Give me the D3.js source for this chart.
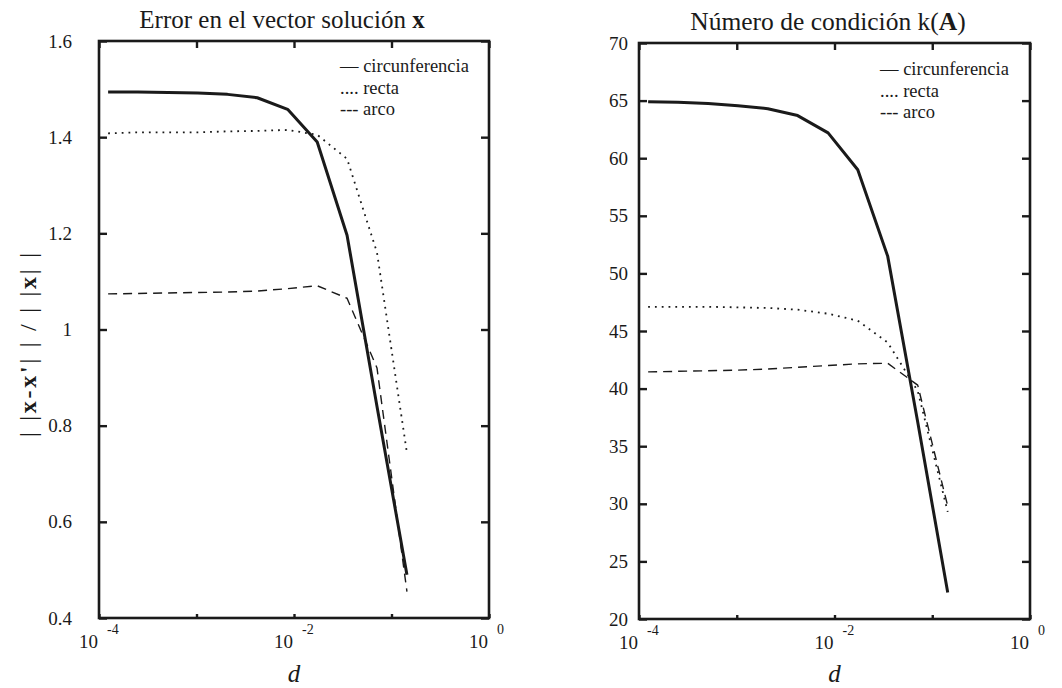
<!DOCTYPE html>
<html><head><meta charset="utf-8">
<script src="https://cdn.jsdelivr.net/npm/d3@7"></script>
<style>body{margin:0;background:#fff}svg{display:block}text{font-family:"Liberation Serif","Times New Roman",serif;fill:#1a1a1a}</style>
</head><body><svg id="c" width="1062" height="688"></svg>
<script>
// d values (shared by all series)
const dValues = [1.24e-4, 2.5e-4, 5.1e-4, 1.03e-3, 2.08e-3, 4.2e-3, 8.6e-3, 0.0173, 0.035, 0.071, 0.144];
// Left panel: error ||x-x'||/||x||
const errCirc  = [1.494, 1.494, 1.493, 1.492, 1.489, 1.482, 1.458, 1.39, 1.196, 0.84, 0.49];
const errRecta = [1.408, 1.41, 1.41, 1.41, 1.412, 1.413, 1.415, 1.405, 1.355, 1.16, 0.743];
const errArco  = [1.074, 1.075, 1.076, 1.077, 1.078, 1.08, 1.085, 1.091, 1.065, 0.92, 0.455];
// Right panel: condition number k(A)
const condCirc  = [64.9, 64.85, 64.75, 64.55, 64.3, 63.7, 62.2, 59.0, 51.5, 37.1, 22.3];
const condRecta = [47.1, 47.1, 47.1, 47.05, 47.0, 46.85, 46.5, 45.9, 44.0, 39.8, 29.3];
const condArco  = [41.45, 41.5, 41.55, 41.6, 41.7, 41.85, 42.0, 42.15, 42.2, 40.3, 29.8];
// ticks
const xTickExps = [-4, -3, -2, -1, 0];
const xLabelExps = [-4, -2, 0];
const errTicks = [0.4, 0.6, 0.8, 1, 1.2, 1.4, 1.6];
const condTicks = [20, 25, 30, 35, 40, 45, 50, 55, 60, 65, 70];
const legendLabels = ["— circunferencia", ".... recta", "--- arco"];

const svg = d3.select("#c");
const ink = "#1a1a1a";

function panel(o) {
  const x = d3.scaleLog().domain([1e-4, 1]).range([o.x0, o.x1]);
  const y = d3.scaleLinear().domain(o.yDomain).range([o.y1, o.y0]);
  const g = svg.append("g");
  const line = vals => d3.line().x((d, i) => x(dValues[i])).y(d => y(d))(vals);
  const styles = [
    {w: 3, dash: null},
    {w: 1.8, dash: "1.8,5"},
    {w: 1.4, dash: "9,6"}
  ];
  o.series.forEach((s, k) => {
    g.append("path").attr("d", line(s)).attr("fill", "none").attr("stroke", ink)
      .attr("stroke-width", styles[k].w).attr("stroke-dasharray", styles[k].dash)
      .attr("stroke-linejoin", "round");
  });
  const left = d3.axisRight(y).tickValues(o.yTicks).tickSize(8).tickFormat("");
  const right = d3.axisLeft(y).tickValues(o.yTicks).tickSize(8).tickFormat("");
  const tv = xTickExps.map(e => Math.pow(10, e));
  const top = d3.axisBottom(x).tickValues(tv).tickSize(7).tickFormat("");
  const bottom = d3.axisTop(x).tickValues(tv).tickSize(4).tickFormat("");
  [[left, `translate(${o.x0},0)`], [right, `translate(${o.x1},0)`],
   [top, `translate(0,${o.y0})`], [bottom, `translate(0,${o.y1})`]].forEach(([a, t]) => {
    const ag = g.append("g").attr("transform", t).call(a);
    ag.select(".domain").remove();
    ag.selectAll("line").attr("stroke", ink).attr("stroke-width", 2.4);
  });
  g.append("rect").attr("x", o.x0).attr("y", o.y0).attr("width", o.x1 - o.x0).attr("height", o.y1 - o.y0)
    .attr("fill", "none").attr("stroke", ink).attr("stroke-width", 2.6);
  g.selectAll(".yl").data(o.yTicks).join("text")
    .attr("x", o.yLabX).attr("y", d => y(d) + 6.5).attr("text-anchor", "end")
    .attr("font-size", 19).text(d => String(d));
  xLabelExps.forEach(e => {
    const px = x(Math.pow(10, e));
    g.append("text").attr("x", px - 1).attr("y", o.y1 + 30).attr("text-anchor", "end")
      .attr("font-size", 19).text("10");
    g.append("text").attr("x", px + 8).attr("y", o.y1 + 16).attr("font-size", 14).text(String(e));
  });
  g.append("text").attr("x", (o.x0 + o.x1) / 2).attr("y", 682).attr("text-anchor", "middle")
    .attr("font-size", 25).attr("font-style", "italic").text("d");
  const t = g.append("text").attr("x", o.titleX).attr("y", o.titleY).attr("text-anchor", "middle").attr("font-size", o.titleSize);
  o.title.forEach(p => t.append("tspan").attr("font-weight", p[1] ? "bold" : null).text(p[0]));
  legendLabels.forEach((l, i) => {
    g.append("text").attr("x", o.legX).attr("y", o.legY + i * 21.7).attr("font-size", 18.5).text(l);
  });
}

panel({x0: 99, x1: 489, y0: 41, y1: 618, yDomain: [0.4, 1.6], yTicks: errTicks, yLabX: 72,
  series: [errCirc, errRecta, errArco], title: [["Error en el vector solución ", false], ["x", true]],
  titleX: 282, titleY: 28, titleSize: 25, legX: 340, legY: 72});
panel({x0: 639, x1: 1030, y0: 43, y1: 619, yDomain: [20, 70], yTicks: condTicks, yLabX: 628,
  series: [condCirc, condRecta, condArco], title: [["Número de condición k(", false], ["A", true], [")", false]],
  titleX: 828, titleY: 30, titleSize: 25.5, legX: 880, legY: 75});

// y-axis label of left panel
const yl = svg.append("text").attr("transform", "translate(36,345) rotate(-90)").attr("text-anchor", "middle")
  .attr("font-size", 24).attr("textLength", 184).attr("lengthAdjust", "spacing");
[["| |", false], ["x-x'", true], ["| |", false], [" / ", false], ["| |", false], ["x", true], ["| |", false]].forEach(p =>
  yl.append("tspan").attr("font-weight", p[1] ? "bold" : null).text(p[0]));
</script></body></html>
